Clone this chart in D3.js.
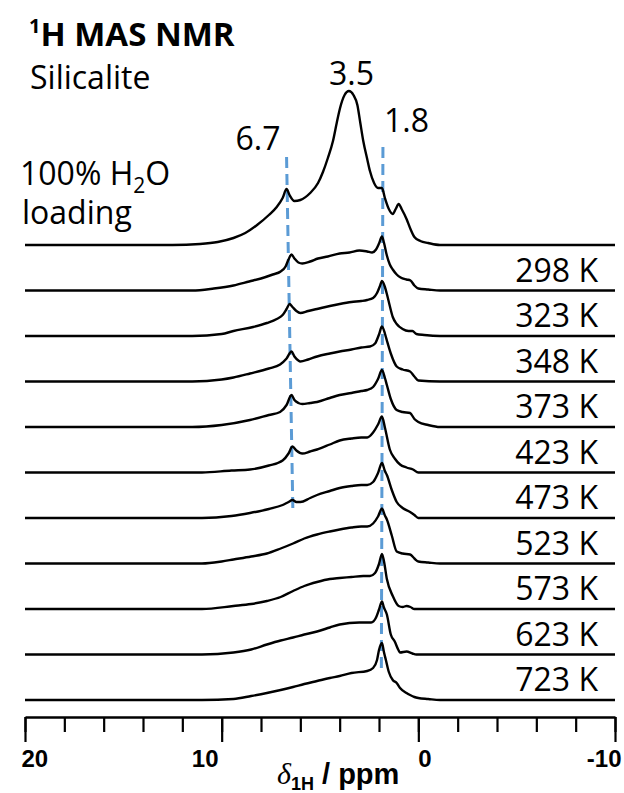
<!DOCTYPE html>
<html>
<head>
<meta charset="utf-8">
<script src="https://cdn.jsdelivr.net/npm/d3@7/dist/d3.min.js"></script>
<style>
  body { margin: 0; background: #fff; }
  svg { display: block; }
  .lbl { font-family: "Open Sans", sans-serif; font-size: 32px; fill: #000; }
  .tick text { font-family: "Liberation Sans", Arial, sans-serif; font-weight: bold; font-size: 24px; }
</style>
</head>
<body>
<svg id="chart" width="624" height="793"></svg>
<script>
/* globals d3 */

// spectra: [ppm, intensity (a.u.)]
var spectrumNames = ['100% loading', '298 K', '323 K', '348 K', '373 K', '423 K',
                     '473 K', '523 K', '573 K', '623 K', '723 K'];

var specLoading = [[20,0],[16,0],[12.5,0],[11.1,1],[10.2,3],[9.4,7],[8.8,12],[8.2,20],[7.6,30],
  [7.2,38],[6.9,47],[6.7,56],[6.55,50],[6.3,44],[6.0,45],[5.5,52],[5.1,62],[4.85,73],[4.6,87],
  [4.34,104],[4.15,122],[3.98,137],[3.75,150],[3.53,154],[3.3,150],[3.1,140],[2.95,122],[2.8,104],
  [2.6,86],[2.46,74],[2.25,62],[2.05,57],[1.85,57],[1.7,47],[1.5,36],[1.3,31],[1.15,36],[1.0,41],
  [0.85,36],[0.6,26],[0.4,16],[0.2,8],[-0.1,4],[-0.5,2],[-1.1,0],[-5,0],[-10,0]];
var spec298 = [[20,0],[15,0],[11.5,0],[10.4,2],[9.4,5],[8.6,9],[8.0,12],[7.4,16],[7.0,19],[6.75,24],
  [6.6,31],[6.45,36],[6.3,32],[6.1,28],[5.9,27],[5.5,29],[5.1,32],[4.6,34],[4.0,37],[3.5,38],[3.0,40],
  [2.6,39],[2.35,38],[2.15,41],[2.0,47],[1.85,54],[1.75,48],[1.6,35],[1.45,26],[1.3,21],[1.1,16],
  [0.9,13],[0.6,11],[0.4,10],[0.2,5],[0.0,2],[-0.5,1],[-1.1,0],[-5,0],[-10,0]];
var spec323 = [[20,0],[15,0],[11.5,0],[10,2],[9.4,5],[8.4,9],[7.7,13],[7.2,17],[6.9,21],[6.7,27],
  [6.55,32],[6.4,29],[6.2,25],[6.0,23],[5.6,25],[5.15,27],[4.5,30],[4.0,32],[3.4,34],[2.9,35],[2.6,36],
  [2.3,38],[2.1,43],[1.95,50],[1.85,55],[1.7,49],[1.6,42],[1.45,30],[1.3,19],[1.1,12],[0.8,7],[0.5,5],
  [0.3,5],[0.1,2],[-0.3,1],[-1.1,0],[-5,0],[-10,0]];
var spec348 = [[20,0],[15,0],[11.5,0],[10,2],[9.4,4],[8.56,8],[7.6,13],[7.03,17],[6.7,23],[6.45,30],
  [6.3,25],[6.1,21],[6.0,20],[5.6,22],[5.15,25],[4.5,28],[4.0,30],[3.4,32],[2.9,34],[2.46,35],[2.2,38],
  [2.0,47],[1.85,55],[1.7,48],[1.6,41],[1.4,28],[1.1,15],[0.8,12],[0.42,10],[0.2,5],[0.0,1],[-1.1,0],
  [-5,0],[-10,0]];
var spec373 = [[20,0],[15,0],[11.5,0],[10,2],[8.56,7],[7.6,12],[7.03,15],[6.7,22],[6.45,32],[6.3,27],
  [6.1,24],[5.9,23],[5.5,24],[5.15,25],[4.5,29],[4.0,32],[3.4,34],[2.9,36],[2.6,37],[2.3,40],[2.05,48],
  [1.85,57],[1.7,49],[1.6,42],[1.4,28],[1.1,17],[0.8,15],[0.42,14],[0.2,8],[0.0,5],[-0.5,2],[-1.1,0],
  [-5,0],[-10,0]];
var spec423 = [[20,0],[15,0],[11,0],[9.5,2],[8.56,3],[7.6,7],[6.9,12],[6.6,19],[6.4,26],[6.2,22],
  [5.9,19],[5.5,21],[5.15,23],[4.5,28],[4.0,32],[3.4,34],[2.9,35],[2.6,35],[2.3,40],[2.05,48],[1.85,56],
  [1.7,45],[1.45,23],[1.2,14],[0.93,8],[0.6,5],[0.27,3],[0.0,0],[-5,0],[-10,0]];
var spec473 = [[20,0],[15,0],[11,0],[9.5,2],[8.56,5],[7.6,9],[6.9,13],[6.6,16],[6.4,18],[6.2,16],
  [6.0,16],[5.5,20],[5.15,23],[4.5,27],[4.0,30],[3.4,32],[2.9,33],[2.6,33],[2.3,36],[2.05,45],[1.85,55],
  [1.7,47],[1.6,43],[1.35,28],[1.1,16],[0.8,10],[0.42,6],[0.2,3],[0.0,0],[-5,0],[-10,0]];
var spec523 = [[20,0],[15,0],[11,0],[10,2],[9.4,4],[8.5,7],[7.7,10],[7.0,15],[6.37,20],[5.8,25],
  [5.15,29],[4.5,32],[4.0,34],[3.4,36],[2.9,37],[2.6,37],[2.3,40],[2.05,47],[1.85,55],[1.7,48],[1.6,44],
  [1.35,28],[1.1,12],[0.8,10],[0.42,9],[0.2,5],[0.0,2],[-0.5,1],[-1.1,0],[-5,0],[-10,0]];
var spec573 = [[20,0],[15,0],[11,0],[9.4,3],[8.5,5],[7.7,8],[7.0,12],[6.37,18],[5.8,23],[5.15,27],
  [4.5,30],[4.0,31],[3.4,32],[2.8,33],[2.46,33],[2.2,36],[2.0,45],[1.85,55],[1.75,48],[1.6,30],[1.3,13],
  [1.0,3],[0.8,2],[0.6,3],[0.4,2],[0.2,0],[-5,0],[-10,0]];
var spec623 = [[20,0],[15,0],[11,0],[9.4,2],[8.5,5],[7.7,10],[7.0,14],[6.37,17],[5.8,20],[5.15,23],
  [4.5,27],[4.0,30],[3.0,32],[2.4,32],[2.15,37],[2.0,45],[1.85,53],[1.75,47],[1.6,40],[1.4,20],[1.2,13],
  [1.0,4],[0.93,2],[0.6,3],[0.3,1],[0.1,0],[-5,0],[-10,0]];
var spec723 = [[20,0],[15,0],[11,0],[9.4,1],[8.5,4],[7.7,7],[7.0,10],[6.37,13],[5.8,16],[5.15,19],
  [4.5,22],[4.0,24],[3.4,27],[2.6,29],[2.3,32],[2.1,40],[2.0,50],[1.85,57],[1.75,48],[1.65,40],[1.5,28],
  [1.3,20],[1.1,17],[0.93,12],[0.6,7],[0.42,5],[0.2,3],[0.0,2],[-0.5,1],[-1.1,0],[-5,0],[-10,0]];

var spectra = [specLoading, spec298, spec323, spec348, spec373, spec423,
               spec473, spec523, spec573, spec623, spec723];

// marked shifts
var peakPpm = [6.7, 3.5, 1.8];
var peakText = ['6.7', '3.5', '1.8'];

var majorTicks = [20, 10, 0, -10];
var minorTicks = d3.range(20, -11, -2);

var svg = d3.select('#chart');

var x = d3.scaleLinear().domain([20, -10]).range([25, 615]);
var offset = d3.scalePoint().domain(spectrumNames).range([245, 700]);
var inten = d3.scaleLinear().domain([0, 1]).range([0, 1]);

var topBase = offset(spectrumNames[0]);

// guide lines
var guides = svg.append('g')
  .attr('stroke', '#5B9BD5')
  .attr('stroke-width', 3)
  .attr('stroke-dasharray', '11,6')
  .attr('fill', 'none');

guides.append('line')
  .attr('x1', x(peakPpm[0])).attr('y1', topBase - inten(88))
  .attr('x2', x(6.38)).attr('y2', offset('473 K') - inten(8));

guides.append('line')
  .attr('x1', x(peakPpm[2])).attr('y1', topBase - inten(98))
  .attr('x2', x(1.88)).attr('y2', offset('723 K') - inten(32));

// traces
var line = d3.line()
  .curve(d3.curveMonotoneX)
  .x(function (d) { return x(d[0]); });

svg.append('g').selectAll('path')
  .data(spectra)
  .join('path')
  .attr('fill', 'none')
  .attr('stroke', '#000')
  .attr('stroke-width', 2.4)
  .attr('stroke-linejoin', 'round')
  .attr('d', function (d, i) {
    var base = offset(spectrumNames[i]);
    return line.y(function (p) { return base - inten(p[1]); })(d);
  });

// temperature labels
svg.append('g').selectAll('text')
  .data(spectrumNames.slice(1))
  .join('text')
  .attr('class', 'lbl')
  .attr('text-anchor', 'end')
  .attr('x', 598)
  .attr('y', function (d) { return offset(d) - 9; })
  .text(function (d) { return d; });

// peak labels
svg.append('text').attr('class', 'lbl').attr('text-anchor', 'end')
  .attr('x', x(peakPpm[0]) - 6).attr('y', topBase - 95).text(peakText[0]);
svg.append('text').attr('class', 'lbl').attr('text-anchor', 'middle')
  .attr('x', x(peakPpm[1]) + 2).attr('y', topBase - 160).text(peakText[1]);
svg.append('text').attr('class', 'lbl').attr('text-anchor', 'start')
  .attr('x', x(peakPpm[2]) + 1).attr('y', topBase - 113).text(peakText[2]);

// title block
var title = svg.append('text').attr('class', 'lbl')
  .attr('x', 29).attr('y', 46)
  .style('font-weight', 'bold').style('font-size', '33px');
title.append('tspan').attr('font-size', 20).attr('dy', -13).text('1');
title.append('tspan').attr('dy', 13).text('H MAS NMR');

svg.append('text').attr('class', 'lbl').attr('x', 30).attr('y', 89).text('Silicalite');

var load = svg.append('text').attr('class', 'lbl').attr('x', 20).attr('y', 185);
load.append('tspan').text('100% H');
load.append('tspan').attr('font-size', 21).attr('dy', 8).text('2');
load.append('tspan').attr('dy', -8).text('O');
svg.append('text').attr('class', 'lbl').attr('x', 22).attr('y', 224).text('loading');

// axis
var axisY = 717;
var gMinor = svg.append('g')
  .attr('transform', 'translate(0,' + axisY + ')')
  .call(d3.axisBottom(x).tickValues(minorTicks).tickSize(15).tickSizeOuter(0).tickFormat(''));
gMinor.select('.domain').attr('stroke-width', 2.5);
gMinor.selectAll('.tick line').attr('stroke-width', 2.2);

var gMajor = svg.append('g')
  .attr('transform', 'translate(0,' + axisY + ')')
  .call(d3.axisBottom(x).tickValues(majorTicks).tickSize(25).tickSizeOuter(0).tickPadding(8)
    .tickFormat(function (d) { return String(d); }));
gMajor.select('.domain').remove();
gMajor.selectAll('.tick line').attr('stroke-width', 2.2);
gMajor.selectAll('.tick text')
  .attr('fill', '#000')
  .attr('text-anchor', function (d) { return d === 20 ? 'start' : (d === -10 ? 'end' : 'middle'); })
  .attr('dx', function (d) { return d === 20 ? -4 : (d === -10 ? 6 : (d === 10 ? -17 : 6)); });

var xt = svg.append('text')
  .attr('x', 277).attr('y', 784)
  .attr('font-family', 'Liberation Sans, Arial, sans-serif')
  .attr('font-weight', 'bold').attr('font-size', 29);
xt.append('tspan').attr('font-family', 'Liberation Serif, serif').attr('font-style', 'italic')
  .attr('font-weight', 'normal').attr('font-size', 30).text('\u03B4');
xt.append('tspan').attr('font-size', 18).attr('dy', 6).text('1H');
xt.append('tspan').attr('dy', -6).text(' / ppm');
</script>
</body>
</html>
